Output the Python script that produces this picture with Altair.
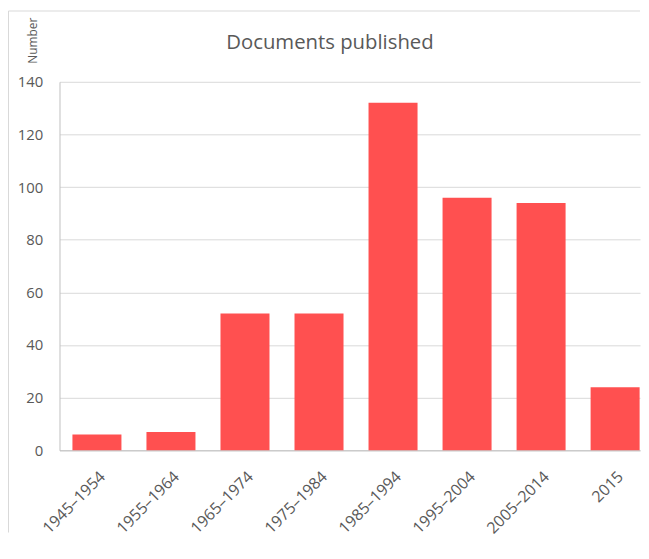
import altair as alt
import pandas as pd

categories = ["1945–1954", "1955–1964", "1965–1974", "1975–1984",
              "1985–1994", "1995–2004", "2005–2014", "2015"]
counts = [6, 7, 52, 52, 132, 96, 94, 24]
y_ticks = [0, 20, 40, 60, 80, 100, 120, 140]
chart_title = "Documents published"
y_title = "Number"

df = pd.DataFrame({"period": categories, "count": counts})

TEXT = "#595959"
FONT = "Open Sans"
W = 586
H = 372

bars = alt.Chart(df).mark_bar(color="#FF5050").encode(
    x=alt.X(
        "period:N",
        sort=categories,
        scale=alt.Scale(paddingInner=0.338, paddingOuter=0.09, align=0.97),
        axis=alt.Axis(
            title=None,
            labelAngle=315,
            labelFontSize=16,
            labelColor=TEXT,
            labelFont=FONT,
            labelPadding=18,
            ticks=False,
            domainColor="#bfbfbf",
            grid=False,
        ),
    ),
    y=alt.Y(
        "count:Q",
        scale=alt.Scale(domain=[0, 140], nice=False),
        axis=alt.Axis(
            values=y_ticks,
            title=y_title,
            titleAngle=270,
            titleX=-27.5,
            titleY=-42,
            titleAlign="center",
            titleBaseline="middle",
            titleFontSize=12,
            titleFontWeight="normal",
            titleColor=TEXT,
            titleFont=FONT,
            labelFontSize=15,
            labelColor=TEXT,
            labelFont=FONT,
            labelPadding=17,
            ticks=False,
            domainColor="#bfbfbf",
            gridColor="#d9d9d9",
        ),
    ),
)

title = alt.Chart(pd.DataFrame({"t": [chart_title]})).mark_text(
    align="center", baseline="alphabetic", fontSize=20.5, color=TEXT, font=FONT
).encode(text="t:N", x=alt.value(273), y=alt.value(-33))

frame_df = pd.DataFrame({"k": [1]})
frame_left = alt.Chart(frame_df).mark_rule(color="#d9d9d9", strokeWidth=1).encode(
    x=alt.value(-51.5), y=alt.value(-71.5), y2=alt.value(455)
)
frame_top = alt.Chart(frame_df).mark_rule(color="#d9d9d9", strokeWidth=1).encode(
    x=alt.value(-51.5), x2=alt.value(W), y=alt.value(-71.5)
)

chart = alt.layer(bars, title, frame_left, frame_top).properties(
    width=W, height=H, padding=0, background="white"
).configure_view(stroke=None)

chart.save("out.html", embed_options={"renderer": "svg", "actions": False})
